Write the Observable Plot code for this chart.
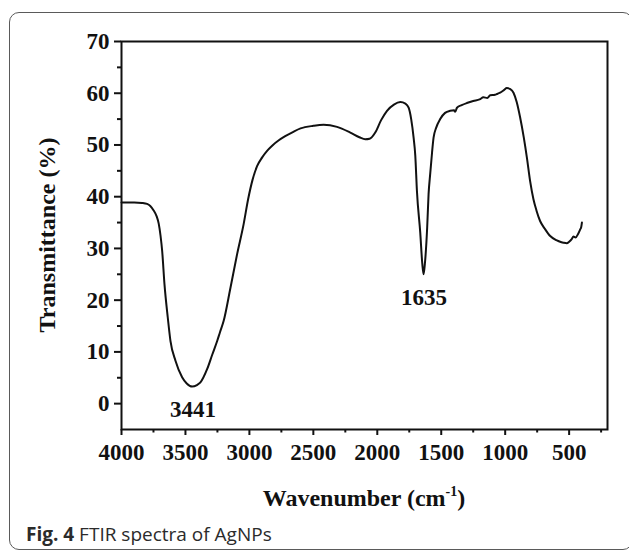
<!DOCTYPE html>
<html>
<head>
<meta charset="utf-8">
<script src="https://cdn.jsdelivr.net/npm/d3@7"></script>
<script src="https://cdn.jsdelivr.net/npm/@observablehq/plot@0.6"></script>
<style>
  html, body { margin: 0; padding: 0; background: #fff; overflow: hidden; }
  #wrap { position: relative; width: 629px; height: 552px; overflow: hidden; }
  #frame { position: absolute; left: 9px; top: 12px; width: 624px; height: 538px; box-sizing: border-box;
           border: 1.5px solid #5a5a5a; border-radius: 10px; }
  #chart { position: absolute; left: 0; top: 0; }
  #caption { position: absolute; left: 26px; top: 523px; font-family: "Open Sans", sans-serif; font-size: 19px;
             line-height: 22px; color: #2b2b2b; white-space: nowrap; }
  #caption b { font-weight: 700; }
</style>
</head>
<body>
<div id="wrap">
  <div id="frame"></div>
  <div id="chart"></div>
  <div id="caption"><b>Fig. 4</b> FTIR spectra of AgNPs</div>
</div>
<script>
// FTIR spectrum (wavenumber in cm^-1, transmittance in %)
const wavenumber = [4000, 3900, 3840, 3800, 3775, 3750, 3725, 3709, 3695, 3682, 3664, 3638, 3617, 3578, 3526, 3490,
  3448, 3410, 3383, 3330, 3290, 3252, 3230, 3201, 3148, 3096, 3045, 3010, 2975, 2940, 2900, 2860, 2820, 2770, 2720,
  2660, 2600, 2500, 2420, 2315, 2211, 2140, 2094, 2060, 2016, 1970, 1924, 1870, 1820, 1780, 1755, 1735, 1716,
  1703, 1690, 1664, 1648, 1638, 1628, 1610, 1599, 1586, 1572, 1560, 1540, 1508, 1470, 1430, 1400, 1391, 1377,
  1340, 1300, 1250, 1200, 1170, 1140, 1117, 1080, 1060, 1039, 1010, 987, 960, 935, 910, 883, 855, 830, 805,
  779, 755, 727, 690, 648, 600, 560, 544, 518, 500, 480, 466, 450, 430, 415, 405, 400];
const transmittance = [38.9, 38.9, 38.8, 38.6, 38.2, 37.4, 36.2, 34.8, 32.5, 29.5, 23.1, 16.6, 12.1, 8.3, 5.1, 3.9,
  3.3, 3.6, 4.1, 6.7, 9.5, 12.1, 13.8, 16.0, 22.4, 28.9, 34.7, 39.5, 43.3, 45.9, 47.6, 48.9, 49.9, 50.9, 51.7,
  52.5, 53.2, 53.7, 53.9, 53.5, 52.4, 51.5, 51.1, 51.2, 52.4, 54.8, 56.6, 57.8, 58.3, 58.0, 57.2, 55.0, 51.4,
  48.0, 41.1, 33.0, 27.0, 25.0, 27.0, 34.0, 40.5, 44.5, 48.5, 51.4, 53.3, 55.0, 56.2, 56.6, 56.7, 56.4, 57.2,
  57.7, 58.1, 58.5, 58.8, 59.2, 59.1, 59.6, 59.7, 59.9, 60.1, 60.6, 61.0, 60.8, 60.1, 58.3, 55.3, 51.5, 47.5, 43.0,
  39.5, 37.3, 35.3, 33.8, 32.4, 31.6, 31.2, 31.1, 31.0, 31.3, 31.8, 32.3, 32.1, 32.8, 33.6, 34.2, 35.0];

// labelled absorption peaks
const peakWavenumber = [3441, 1635];
const peakTransmittance = [3.3, 25.0];

// axis ticks
const xTicks = [4000, 3500, 3000, 2500, 2000, 1500, 1000, 500];
const xMinorTicks = [3750, 3250, 2750, 2250, 1750, 1250, 750, 250];
const yTicks = [0, 10, 20, 30, 40, 50, 60, 70];
const yMinorTicks = [5, 15, 25, 35, 45, 55, 65];

const xTitle = "Wavenumber (cm";
const xTitleSup = "-1";
const yTitle = "Transmittance (%)";

const spectrum = wavenumber.map((w, i) => ({w, t: transmittance[i]}));
const peaks = peakWavenumber.map((w, i) => ({w, t: peakTransmittance[i]}));

const serif = "'Liberation Serif', 'Times New Roman', serif";

const chart = Plot.plot({
  width: 629,
  height: 515,
  marginLeft: 121,
  marginRight: 22,
  marginTop: 41,
  marginBottom: 86,
  style: {fontFamily: serif, fontWeight: "bold", fontSize: "23px", background: "transparent", overflow: "visible"},
  x: {domain: [4000, 200]},
  y: {domain: [-5, 70]},
  marks: [
    Plot.line(spectrum, {x: "w", y: "t", stroke: "#111", strokeWidth: 2, curve: "monotone-x"}),
    Plot.text(peaks, {x: "w", y: "t", text: d => String(d.w), dy: 23, fontSize: 23, fontWeight: "bold",
      fontFamily: serif, fill: "#111"}),
    Plot.axisX(xTicks, {tickSize: 6, tickPadding: 8, strokeWidth: 2, stroke: "#111", fontSize: 23,
      fontWeight: "bold", fontFamily: serif, fill: "#111", label: null, tickFormat: d => String(d)}),
    Plot.axisX(xMinorTicks, {tickSize: 3.5, strokeWidth: 2, stroke: "#111", text: null, label: null}),
    Plot.axisY(yTicks, {tickSize: 7, tickPadding: 5, strokeWidth: 2, stroke: "#111", fontSize: 23,
      fontWeight: "bold", fontFamily: serif, fill: "#111", label: null, tickFormat: d => String(d)}),
    Plot.axisY(yMinorTicks, {tickSize: 4, strokeWidth: 2, stroke: "#111", text: null, label: null}),
    Plot.frame({stroke: "#111", strokeWidth: 2})
  ]
});

document.getElementById("chart").appendChild(chart);

// axis titles placed from the scales
const sx = chart.scale("x"), sy = chart.scale("y");
const cx = (sx.range[0] + sx.range[1]) / 2;
const cy = (sy.range[0] + sy.range[1]) / 2;
const svg = d3.select(chart);

const xt = svg.append("text")
  .attr("x", cx).attr("y", sy.range[0] + 77)
  .attr("text-anchor", "middle")
  .attr("font-family", serif).attr("font-weight", "bold").attr("font-size", 24).attr("fill", "#111");
xt.append("tspan").text(xTitle);
xt.append("tspan").attr("font-size", 14).attr("dy", -10).text(xTitleSup);
xt.append("tspan").attr("dy", 10).text(")");

svg.append("text")
  .attr("transform", `translate(${sx.range[0] - 74},${cy}) rotate(-90)`)
  .attr("text-anchor", "middle").attr("dy", "0.35em")
  .attr("font-family", serif).attr("font-weight", "bold").attr("font-size", 24).attr("fill", "#111")
  .text(yTitle);
</script>
</body>
</html>
